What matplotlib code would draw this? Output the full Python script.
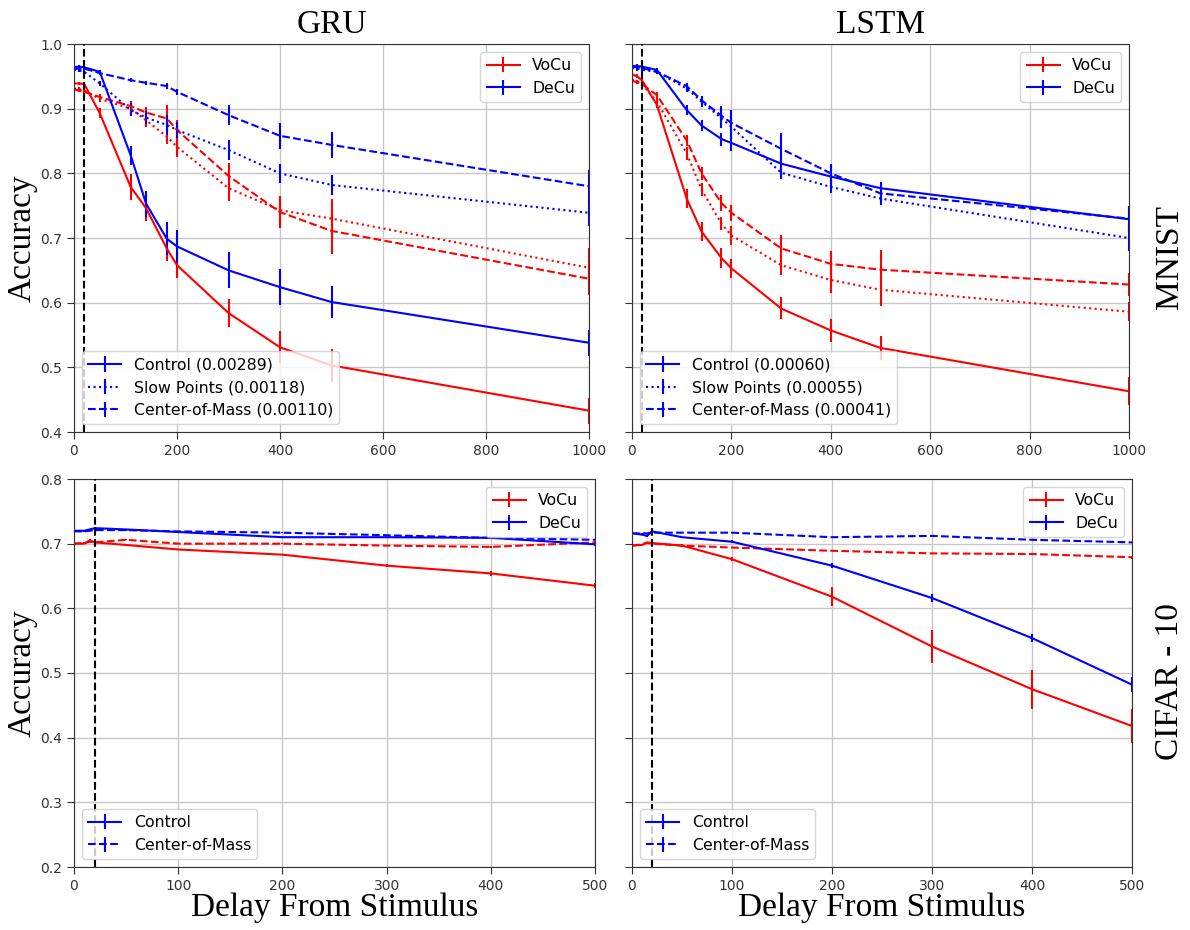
#!/usr/bin/env python3
"""
Accuracy vs. delay from stimulus for GRU / LSTM on MNIST and CIFAR-10
"""

import numpy as np
from matplotlib import pyplot as plt

# =======================
# DATA
# =======================

x_mnist = [0, 10, 20, 50, 110, 140, 180, 200, 300, 400, 500, 1000]
x_cifar = [0, 10, 15, 20, 50, 100, 200, 300, 400, 500]

# GRU / MNIST
gru_mnist_vocu_ctrl = [0.939, 0.939, 0.938, 0.893, 0.779, 0.746, 0.684, 0.658, 0.584, 0.531, 0.503, 0.433]
gru_mnist_vocu_ctrl_err = [0.003, 0.003, 0.003, 0.008, 0.02, 0.02, 0.02, 0.02, 0.022, 0.025, 0.025, 0.02]
gru_mnist_vocu_slow = [0.931, 0.930, 0.928, 0.915, 0.900, 0.882, 0.857, 0.841, 0.777, 0.743, 0.730, 0.654]
gru_mnist_vocu_slow_err = [0.003, 0.003, 0.003, 0.005, 0.008, 0.01, 0.012, 0.015, 0.02, 0.02, 0.03, 0.03]
gru_mnist_vocu_com = [0.930, 0.928, 0.926, 0.918, 0.904, 0.894, 0.885, 0.867, 0.796, 0.740, 0.711, 0.637]
gru_mnist_vocu_com_err = [0.003, 0.003, 0.003, 0.005, 0.008, 0.008, 0.02, 0.015, 0.02, 0.025, 0.035, 0.025]
gru_mnist_decu_ctrl = [0.964, 0.965, 0.964, 0.957, 0.828, 0.753, 0.699, 0.687, 0.650, 0.624, 0.601, 0.538]
gru_mnist_decu_ctrl_err = [0.003, 0.003, 0.003, 0.003, 0.015, 0.02, 0.025, 0.025, 0.028, 0.028, 0.025, 0.02]
gru_mnist_decu_slow = [0.960, 0.959, 0.957, 0.939, 0.898, 0.886, 0.875, 0.867, 0.836, 0.800, 0.782, 0.739]
gru_mnist_decu_slow_err = [0.003, 0.003, 0.003, 0.004, 0.01, 0.01, 0.015, 0.012, 0.015, 0.015, 0.015, 0.02]
gru_mnist_decu_com = [0.961, 0.962, 0.962, 0.955, 0.944, 0.940, 0.935, 0.926, 0.890, 0.858, 0.844, 0.780]
gru_mnist_decu_com_err = [0.004, 0.003, 0.003, 0.003, 0.003, 0.003, 0.004, 0.005, 0.015, 0.02, 0.02, 0.025]

# LSTM / MNIST
lstm_mnist_vocu_ctrl = [0.953, 0.950, 0.944, 0.906, 0.761, 0.710, 0.669, 0.653, 0.591, 0.557, 0.530, 0.463]
lstm_mnist_vocu_ctrl_err = [0.003, 0.003, 0.003, 0.005, 0.015, 0.015, 0.015, 0.015, 0.017, 0.018, 0.018, 0.022]
lstm_mnist_vocu_slow = [0.945, 0.942, 0.938, 0.911, 0.831, 0.775, 0.722, 0.704, 0.658, 0.635, 0.620, 0.586]
lstm_mnist_vocu_slow_err = [0.003, 0.003, 0.003, 0.005, 0.01, 0.01, 0.01, 0.015, 0.015, 0.02, 0.025, 0.015]
lstm_mnist_vocu_com = [0.943, 0.941, 0.938, 0.921, 0.851, 0.800, 0.754, 0.739, 0.684, 0.660, 0.651, 0.628]
lstm_mnist_vocu_com_err = [0.003, 0.003, 0.003, 0.004, 0.008, 0.01, 0.012, 0.012, 0.02, 0.02, 0.03, 0.018]
lstm_mnist_decu_ctrl = [0.966, 0.966, 0.965, 0.960, 0.898, 0.874, 0.853, 0.847, 0.815, 0.795, 0.777, 0.729]
lstm_mnist_decu_ctrl_err = [0.003, 0.003, 0.003, 0.003, 0.008, 0.008, 0.01, 0.012, 0.02, 0.015, 0.01, 0.02]
lstm_mnist_decu_slow = [0.963, 0.962, 0.960, 0.957, 0.931, 0.911, 0.885, 0.872, 0.801, 0.779, 0.761, 0.700]
lstm_mnist_decu_slow_err = [0.003, 0.003, 0.003, 0.003, 0.005, 0.008, 0.015, 0.02, 0.01, 0.01, 0.01, 0.02]
lstm_mnist_decu_com = [0.965, 0.964, 0.963, 0.957, 0.935, 0.913, 0.889, 0.878, 0.838, 0.800, 0.769, 0.730]
lstm_mnist_decu_com_err = [0.003, 0.003, 0.003, 0.003, 0.004, 0.006, 0.015, 0.02, 0.025, 0.015, 0.01, 0.02]

# GRU / CIFAR-10
gru_cifar_vocu_ctrl = [0.700, 0.700, 0.705, 0.702, 0.698, 0.691, 0.683, 0.666, 0.654, 0.635]
gru_cifar_vocu_ctrl_err = [0.001, 0.001, 0.002, 0.002, 0.001, 0.001, 0.001, 0.002, 0.004, 0.004]
gru_cifar_vocu_com = [0.700, 0.701, 0.703, 0.702, 0.706, 0.700, 0.700, 0.697, 0.695, 0.702]
gru_cifar_vocu_com_err = [0.001, 0.001, 0.001, 0.001, 0.001, 0.001, 0.001, 0.001, 0.001, 0.002]
gru_cifar_decu_ctrl = [0.720, 0.720, 0.722, 0.724, 0.722, 0.718, 0.710, 0.710, 0.709, 0.699]
gru_cifar_decu_ctrl_err = [0.001, 0.001, 0.001, 0.002, 0.001, 0.001, 0.001, 0.001, 0.001, 0.002]
gru_cifar_decu_com = [0.719, 0.719, 0.720, 0.721, 0.721, 0.719, 0.717, 0.713, 0.709, 0.706]
gru_cifar_decu_com_err = [0.001, 0.001, 0.001, 0.001, 0.001, 0.001, 0.001, 0.001, 0.001, 0.001]

# LSTM / CIFAR-10
lstm_cifar_vocu_ctrl = [0.697, 0.698, 0.702, 0.701, 0.697, 0.676, 0.618, 0.541, 0.475, 0.418]
lstm_cifar_vocu_ctrl_err = [0.001, 0.001, 0.001, 0.002, 0.002, 0.003, 0.015, 0.025, 0.03, 0.027]
lstm_cifar_vocu_com = [0.697, 0.699, 0.701, 0.700, 0.697, 0.694, 0.689, 0.685, 0.684, 0.679]
lstm_cifar_vocu_com_err = [0.001, 0.001, 0.001, 0.001, 0.001, 0.001, 0.001, 0.001, 0.002, 0.002]
lstm_cifar_decu_ctrl = [0.716, 0.714, 0.712, 0.719, 0.710, 0.703, 0.666, 0.616, 0.554, 0.482]
lstm_cifar_decu_ctrl_err = [0.001, 0.001, 0.001, 0.002, 0.001, 0.002, 0.004, 0.006, 0.006, 0.012]
lstm_cifar_decu_com = [0.716, 0.716, 0.716, 0.717, 0.717, 0.717, 0.710, 0.712, 0.706, 0.702]
lstm_cifar_decu_com_err = [0.001, 0.001, 0.001, 0.001, 0.001, 0.001, 0.001, 0.001, 0.001, 0.001]

gru_mnist_mse = ["0.00289", "0.00118", "0.00110"]
lstm_mnist_mse = ["0.00060", "0.00055", "0.00041"]

# =======================
# LAYOUT (pixels)
# =======================

W, H = 1190, 930
SERIF = "Liberation Serif"


def px_axes(fig, left, right, top, bottom):
    return fig.add_axes([left / W, 1 - bottom / H, (right - left) / W, (bottom - top) / H])


# =======================
# VISUALISATION
# =======================

def draw_panel(ax, x, series, xlim, ylim, xstep, show_ylabels):
    # series: list of (values, errors, color, linestyle)
    handles = []
    for y, err, color, ls in series:
        h = ax.errorbar(x, y, yerr=err, color=color, linestyle=ls, linewidth=1.5, elinewidth=1.5, capsize=0)
        handles.append(h)
    ax.axvline(20, color="black", linestyle="--", linewidth=1.5, zorder=5)
    ax.set_xlim(*xlim)
    ax.set_ylim(*ylim)
    ax.set_xticks(np.arange(xlim[0], xlim[1] + 1, xstep))
    ax.set_yticks(np.round(np.arange(ylim[0], ylim[1] + 0.001, 0.1), 1))
    ax.grid(True, color="#c8c8c8", linewidth=1.0)
    ax.tick_params(labelsize=10, colors="#333333", length=5)
    if not show_ylabels:
        ax.set_yticklabels([])
    for s in ax.spines.values():
        s.set_color("#333333")
    return handles


def add_legends(ax, handles, style_labels):
    # handles order: vocu ctrl, ..., decu ctrl, ...
    n = len(style_labels)
    vocu_ctrl, decu_ctrl = handles[0], handles[n]
    leg1 = ax.legend([vocu_ctrl, decu_ctrl], ["VoCu", "DeCu"], loc="upper right", fontsize=11.3, handlelength=2.1)
    ax.add_artist(leg1)
    ax.legend(handles[n:], style_labels, loc="lower left", fontsize=11.3, handlelength=2.1)


def main():
    plt.rcParams["font.family"] = "DejaVu Sans"
    fig = plt.figure(figsize=(W / 100, H / 100), dpi=100)

    ax_tl = px_axes(fig, 74, 589, 44, 432)
    ax_tr = px_axes(fig, 632, 1129, 44, 432)
    ax_bl = px_axes(fig, 74, 595, 479, 867)
    ax_br = px_axes(fig, 632, 1132, 479, 867)

    # GRU MNIST
    h = draw_panel(ax_tl, x_mnist, [
        (gru_mnist_vocu_ctrl, gru_mnist_vocu_ctrl_err, "red", "-"),
        (gru_mnist_vocu_slow, gru_mnist_vocu_slow_err, "red", ":"),
        (gru_mnist_vocu_com, gru_mnist_vocu_com_err, "red", "--"),
        (gru_mnist_decu_ctrl, gru_mnist_decu_ctrl_err, "blue", "-"),
        (gru_mnist_decu_slow, gru_mnist_decu_slow_err, "blue", ":"),
        (gru_mnist_decu_com, gru_mnist_decu_com_err, "blue", "--"),
    ], (0, 1000), (0.4, 1.0), 200, True)
    add_legends(ax_tl, h, [f"Control ({gru_mnist_mse[0]})",
                           f"Slow Points ({gru_mnist_mse[1]})",
                           f"Center-of-Mass ({gru_mnist_mse[2]})"])

    # LSTM MNIST
    h = draw_panel(ax_tr, x_mnist, [
        (lstm_mnist_vocu_ctrl, lstm_mnist_vocu_ctrl_err, "red", "-"),
        (lstm_mnist_vocu_slow, lstm_mnist_vocu_slow_err, "red", ":"),
        (lstm_mnist_vocu_com, lstm_mnist_vocu_com_err, "red", "--"),
        (lstm_mnist_decu_ctrl, lstm_mnist_decu_ctrl_err, "blue", "-"),
        (lstm_mnist_decu_slow, lstm_mnist_decu_slow_err, "blue", ":"),
        (lstm_mnist_decu_com, lstm_mnist_decu_com_err, "blue", "--"),
    ], (0, 1000), (0.4, 1.0), 200, False)
    add_legends(ax_tr, h, [f"Control ({lstm_mnist_mse[0]})",
                           f"Slow Points ({lstm_mnist_mse[1]})",
                           f"Center-of-Mass ({lstm_mnist_mse[2]})"])

    # GRU CIFAR-10
    h = draw_panel(ax_bl, x_cifar, [
        (gru_cifar_vocu_ctrl, gru_cifar_vocu_ctrl_err, "red", "-"),
        (gru_cifar_vocu_com, gru_cifar_vocu_com_err, "red", "--"),
        (gru_cifar_decu_ctrl, gru_cifar_decu_ctrl_err, "blue", "-"),
        (gru_cifar_decu_com, gru_cifar_decu_com_err, "blue", "--"),
    ], (0, 500), (0.2, 0.8), 100, True)
    add_legends(ax_bl, h, ["Control", "Center-of-Mass"])

    # LSTM CIFAR-10
    h = draw_panel(ax_br, x_cifar, [
        (lstm_cifar_vocu_ctrl, lstm_cifar_vocu_ctrl_err, "red", "-"),
        (lstm_cifar_vocu_com, lstm_cifar_vocu_com_err, "red", "--"),
        (lstm_cifar_decu_ctrl, lstm_cifar_decu_ctrl_err, "blue", "-"),
        (lstm_cifar_decu_com, lstm_cifar_decu_com_err, "blue", "--"),
    ], (0, 500), (0.2, 0.8), 100, False)
    add_legends(ax_br, h, ["Control", "Center-of-Mass"])

    # titles / labels in serif
    big = dict(family=SERIF, fontsize=24)
    ax_tl.set_title("GRU", pad=8, **big)
    ax_tr.set_title("LSTM", pad=8, **big)
    ax_tl.set_ylabel("Accuracy", labelpad=2, **big)
    ax_bl.set_ylabel("Accuracy", labelpad=2, **big)
    ax_bl.set_xlabel("Delay From Stimulus", labelpad=0, **big)
    ax_br.set_xlabel("Delay From Stimulus", labelpad=0, **big)
    fig.text(1170 / W, 1 - 257 / H, "MNIST", rotation=90, ha="center", va="center", **big)
    fig.text(1170 / W, 1 - 682 / H, "CIFAR - 10", rotation=90, ha="center", va="center", **big)

    fig.savefig("out.png", dpi=100)


if __name__ == "__main__":
    main()
